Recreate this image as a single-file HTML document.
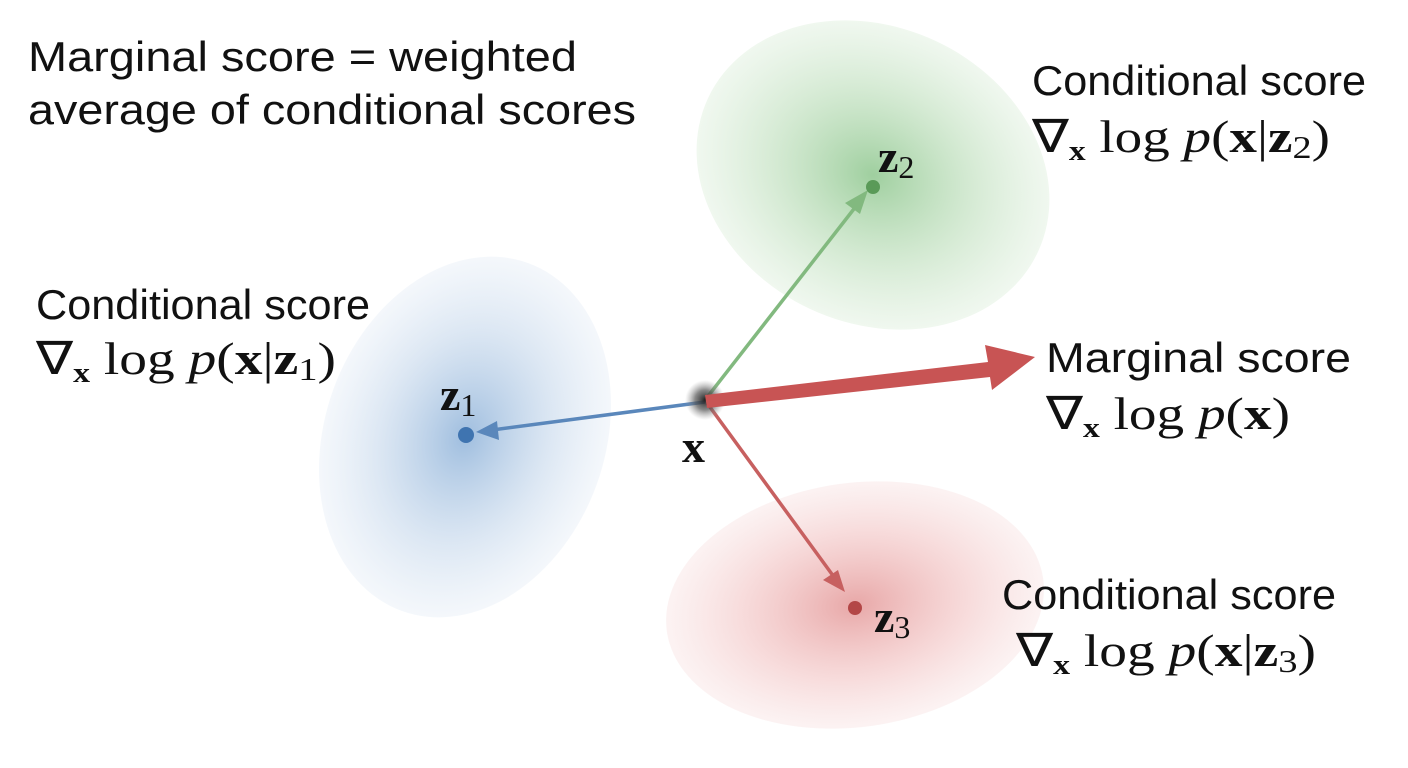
<!DOCTYPE html>
<html><head><meta charset="utf-8"><style>
html,body{margin:0;padding:0;background:#fff;}
svg{display:block;}
.s{font-family:"Liberation Sans",sans-serif;font-size:42px;fill:#111;}
.m{font-family:"Liberation Serif",serif;font-size:46px;fill:#111;}
.b{font-weight:bold;}
</style></head><body>
<svg width="1408" height="768" viewBox="0 0 1408 768" xmlns="http://www.w3.org/2000/svg">
<defs>
<radialGradient id="gg"><stop offset="0" stop-color="#7fbf7f" stop-opacity="0.75"/><stop offset="0.6" stop-color="#a8d4a5" stop-opacity="0.45"/><stop offset="1" stop-color="#d4ead2" stop-opacity="0.35"/></radialGradient>
<radialGradient id="gb"><stop offset="0" stop-color="#7fa8d4" stop-opacity="0.75"/><stop offset="0.6" stop-color="#a9c4e2" stop-opacity="0.4"/><stop offset="1" stop-color="#dbe6f3" stop-opacity="0.3"/></radialGradient>
<radialGradient id="gr"><stop offset="0" stop-color="#e08a8a" stop-opacity="0.75"/><stop offset="0.6" stop-color="#eeb0b0" stop-opacity="0.45"/><stop offset="1" stop-color="#f6dcdc" stop-opacity="0.35"/></radialGradient>
<radialGradient id="gx"><stop offset="0" stop-color="#222"/><stop offset="0.5" stop-color="#555" stop-opacity="0.7"/><stop offset="1" stop-color="#999" stop-opacity="0"/></radialGradient>
</defs>
<ellipse cx="873" cy="175" rx="182" ry="148" transform="rotate(25 873 175)" fill="url(#gg)"/>
<ellipse cx="465" cy="437" rx="140" ry="185" transform="rotate(20 465 437)" fill="url(#gb)"/>
<ellipse cx="855" cy="605" rx="190" ry="122" transform="rotate(-8 855 605)" fill="url(#gr)"/>

<line x1="705" y1="400" x2="857" y2="205" stroke="#82b97f" stroke-width="3.5"/>
<polygon points="868,190 845,203 860,214" fill="#82b97f"/>
<line x1="705" y1="402" x2="492" y2="430" stroke="#5a87bb" stroke-width="3.5"/>
<polygon points="476,432 497,421 499,440" fill="#5a87bb"/>
<line x1="707" y1="403" x2="834" y2="577" stroke="#c76060" stroke-width="3.5"/>
<polygon points="845,592 823,580 838,570" fill="#c76060"/>
<circle cx="705" cy="400" r="20" fill="url(#gx)"/>
<polygon points="705,395 988,362 985,345 1035,357 992,390 990,377 707,408" fill="#c85454"/>

<circle cx="873" cy="187" r="7" fill="#5a9a58"/>
<circle cx="466" cy="435" r="8" fill="#3f74b0"/>
<circle cx="855" cy="608" r="7" fill="#b34646"/>

<text class="s" x="28" y="71" textLength="549" lengthAdjust="spacingAndGlyphs">Marginal score = weighted</text>
<text class="s" x="28" y="124" textLength="608" lengthAdjust="spacingAndGlyphs">average of conditional scores</text>

<text class="s" x="1032" y="95" textLength="334" lengthAdjust="spacingAndGlyphs">Conditional score</text>
<text class="m" x="1032" y="152" textLength="298" lengthAdjust="spacingAndGlyphs">∇<tspan class="b" font-size="28" dy="8">x</tspan><tspan dy="-8"> log </tspan><tspan font-style="italic">p</tspan>(<tspan class="b">x</tspan>|<tspan class="b">z</tspan><tspan font-size="32" dy="6">2</tspan><tspan dy="-6">)</tspan></text>

<text class="s" x="36" y="319" textLength="334" lengthAdjust="spacingAndGlyphs">Conditional score</text>
<text class="m" x="36" y="374" textLength="300" lengthAdjust="spacingAndGlyphs">∇<tspan class="b" font-size="28" dy="8">x</tspan><tspan dy="-8"> log </tspan><tspan font-style="italic">p</tspan>(<tspan class="b">x</tspan>|<tspan class="b">z</tspan><tspan font-size="32" dy="6">1</tspan><tspan dy="-6">)</tspan></text>

<text class="s" x="1046" y="372" textLength="305" lengthAdjust="spacingAndGlyphs">Marginal score</text>
<text class="m" x="1046" y="429" textLength="244" lengthAdjust="spacingAndGlyphs">∇<tspan class="b" font-size="28" dy="8">x</tspan><tspan dy="-8"> log </tspan><tspan font-style="italic">p</tspan>(<tspan class="b">x</tspan>)</text>

<text class="s" x="1002" y="609" textLength="334" lengthAdjust="spacingAndGlyphs">Conditional score</text>
<text class="m" x="1016" y="666" textLength="300" lengthAdjust="spacingAndGlyphs">∇<tspan class="b" font-size="28" dy="8">x</tspan><tspan dy="-8"> log </tspan><tspan font-style="italic">p</tspan>(<tspan class="b">x</tspan>|<tspan class="b">z</tspan><tspan font-size="32" dy="6">3</tspan><tspan dy="-6">)</tspan></text>

<text class="m b" x="878" y="172">z<tspan font-size="32" font-weight="normal" dy="6">2</tspan></text>
<text class="m b" x="440" y="410">z<tspan font-size="32" font-weight="normal" dy="6">1</tspan></text>
<text class="m b" x="874" y="632">z<tspan font-size="32" font-weight="normal" dy="6">3</tspan></text>
<text class="m b" x="682" y="462">x</text>
</svg>
</body></html>
